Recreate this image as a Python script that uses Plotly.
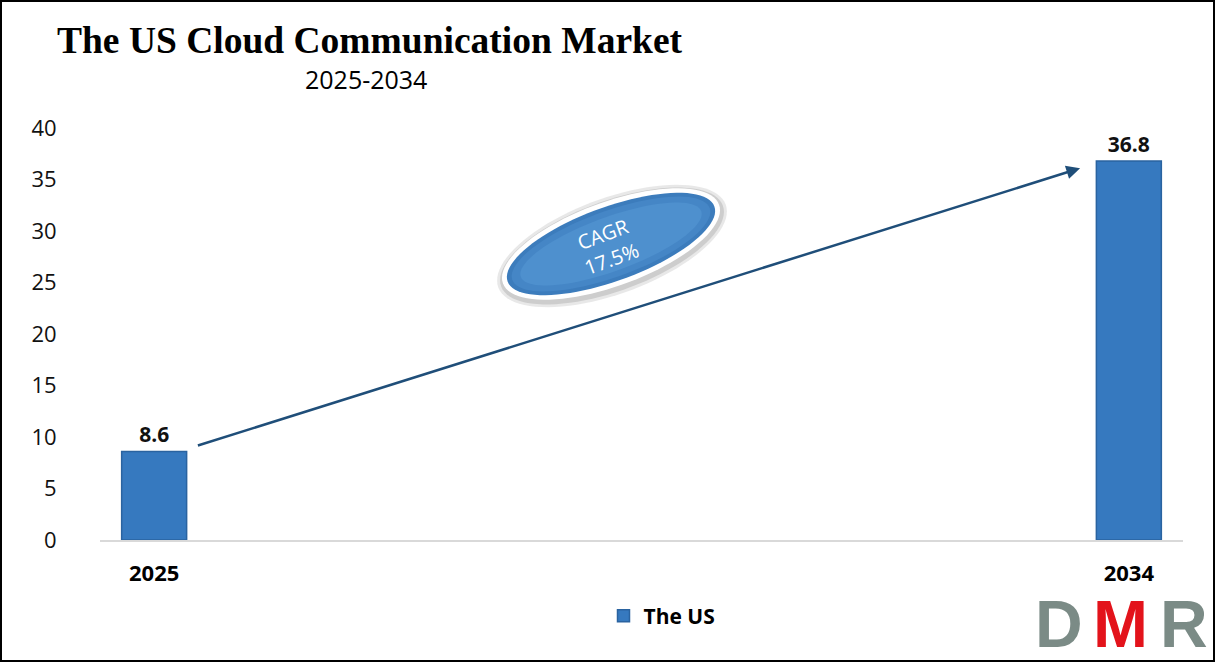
import math
import plotly.graph_objects as go

# ---- data ----
years = [2025, 2034]
values = [8.6, 36.8]
year_labels = ["2025", "2034"]
series_name = "The US"
cagr_text = "CAGR<br>17.5%"
title_text = "The US Cloud Communication Market"
subtitle_text = "2025-2034"

W_PX, H_PX = 1216, 663
L, R, T, B = 100, 1183, 128, 540
PW, PH = R - L, B - T


def px(x):
    return (x - L) / PW


def py(y):
    return (B - y) / PH


def ellipse_path(cx, cy, a, b, deg, n=90):
    th = math.radians(deg)
    pts = []
    for i in range(n):
        f = 2 * math.pi * i / n
        ex = a * math.cos(f)
        ey = b * math.sin(f)
        x = cx + ex * math.cos(th) - ey * math.sin(th)
        y = cy - (ex * math.sin(th) + ey * math.cos(th))
        pts.append((px(x), py(y)))
    d = "M %.5f,%.5f " % pts[0] + " ".join("L %.5f,%.5f" % p for p in pts[1:]) + " Z"
    return d


bar_color = "#3679BF"

fig = go.Figure()
fig.add_trace(go.Bar(
    x=years, y=values, name=series_name, width=0.6,
    marker=dict(color=bar_color, line=dict(color="#2A63A0", width=1.5)),
    text=["<b>%s</b>" % v for v in values], textposition="outside",
    textfont=dict(family="Open Sans", size=21, color="#111111"),
    cliponaxis=False, showlegend=True,
))

shapes = []
cx, cy, ang = 611, 244, 20
ell_layers = [
    (cx + 1, cy + 2, 121, 48, "rgba(110,110,110,0.16)"),
    (cx + 1, cy + 2, 118, 45, "rgba(110,110,110,0.22)"),
    (cx, cy, 115, 42, "white"),
    (cx, cy, 110, 37, "#3C7CBC"),
    (cx, cy, 105, 33, "#4586C6"),
    (cx, cy, 96, 27, "#4E90CE"),
]
for (ex, ey, ea, eb, col) in ell_layers:
    shapes.append(dict(type="path", xref="paper", yref="paper",
                       path=ellipse_path(ex, ey, ea, eb, ang),
                       fillcolor=col, line=dict(width=0), layer="below"))
# outer frame
shapes.append(dict(type="rect", xref="paper", yref="paper",
                   x0=px(1), x1=px(1214), y0=py(661), y1=py(1),
                   line=dict(color="black", width=2), fillcolor="rgba(0,0,0,0)"))

logo_size = 66
logo_y = 624
annotations = [
    dict(x=2033.55, y=36.1, ax=2025.39, ay=9.13, xref="x", yref="y", axref="x", ayref="y",
         text="", showarrow=True, arrowhead=2, arrowsize=1.1, arrowwidth=2.5,
         arrowcolor="#1F4E79", standoff=0, startstandoff=0),
    dict(x=px(607), y=py(246), xref="paper", yref="paper", text=cagr_text,
         showarrow=False, textangle=-ang, xanchor="center", yanchor="middle",
         font=dict(family="Open Sans", size=20, color="white")),
    dict(x=px(55), y=py(40), xref="paper", yref="paper", xanchor="left", yanchor="middle",
         text="<b>%s</b>" % title_text, showarrow=False,
         font=dict(family="Liberation Serif", size=37.5, color="black")),
    dict(x=px(366), y=py(79), xref="paper", yref="paper", xanchor="center", yanchor="middle",
         text=subtitle_text, showarrow=False,
         font=dict(family="Open Sans", size=25, color="black")),
    # DMR logo
    dict(x=px(1059), y=py(logo_y), xref="paper", yref="paper", text="<b>D</b>", showarrow=False,
         xanchor="center", yanchor="middle",
         font=dict(family="Liberation Sans", size=logo_size, color="#7B8B86")),
    dict(x=px(1120), y=py(logo_y), xref="paper", yref="paper", text="<b>M</b>", showarrow=False,
         xanchor="center", yanchor="middle",
         font=dict(family="Liberation Sans", size=logo_size, color="#E3131B")),
    dict(x=px(1184), y=py(logo_y), xref="paper", yref="paper", text="<b>R</b>", showarrow=False,
         xanchor="center", yanchor="middle",
         font=dict(family="Liberation Sans", size=logo_size, color="#7B8B86")),
]

fig.update_layout(
    width=W_PX, height=H_PX,
    margin=dict(l=L, r=W_PX - R, t=T, b=H_PX - B, autoexpand=False),
    paper_bgcolor="white", plot_bgcolor="white",
    shapes=shapes, annotations=annotations,
    legend=dict(orientation="h", x=px(662), y=py(616), xanchor="center", yanchor="middle",
                font=dict(family="Open Sans", size=21, color="black", weight="bold"),
                itemwidth=30),
    xaxis=dict(range=[2024.5, 2034.5], tickvals=years,
               ticktext=["<b>%s</b>" % t for t in year_labels],
               showgrid=False, zeroline=False, showline=True, linecolor="#D9D9D9", linewidth=2,
               ticks="outside", ticklen=13, tickcolor="rgba(0,0,0,0)",
               tickfont=dict(family="Open Sans", size=22, color="black")),
    yaxis=dict(range=[0, 40], dtick=5, showgrid=False, zeroline=False, showline=False,
               ticks="outside", ticklen=38, tickcolor="rgba(0,0,0,0)",
               tickfont=dict(family="Open Sans", size=22, color="#111111")),
)

fig.write_html("out.html", config={"displayModeBar": False},
               post_script="document.body.style.margin='0px';")
